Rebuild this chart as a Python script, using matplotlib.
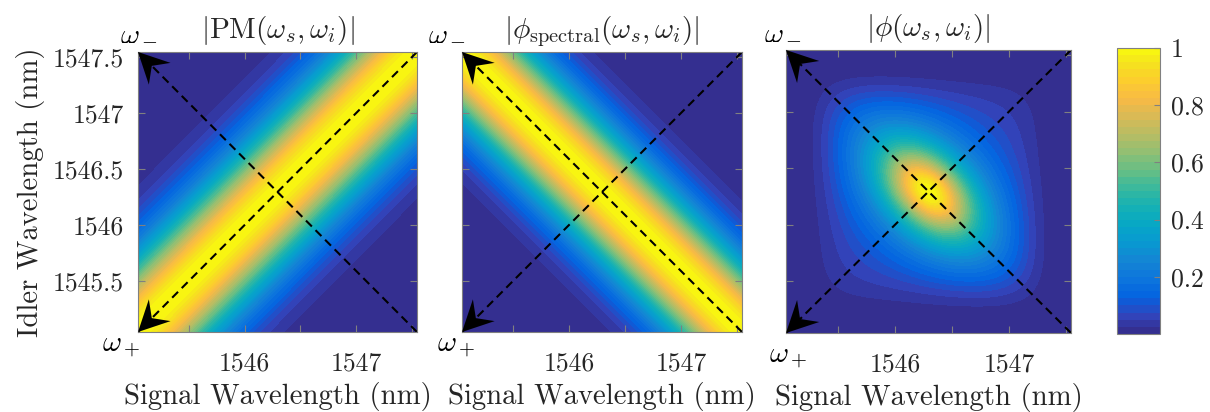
import numpy as np
import matplotlib
matplotlib.use('Agg')
import matplotlib.pyplot as plt
from matplotlib.colors import LinearSegmentedColormap
from matplotlib.patches import Polygon

# wavelength window shared by all three panels (nm)
lam_min, lam_max = 1545.045, 1547.545
lam_center = 1546.295

x_ticks = [1545.5, 1546, 1546.5, 1547, 1547.5]
x_ticklabels = ['', '1546', '', '1547', '']
y_ticklabels = ['1545.5', '1546', '1546.5', '1547', '1547.5']
cbar_ticks = [0.2, 0.4, 0.6, 0.8, 1]
cbar_ticklabels = ['0.2', '0.4', '0.6', '0.8', '1']

titles = [r'$|\mathrm{PM}(\omega_s,\omega_i)|$',
          r'$|\phi_{\mathrm{spectral}}(\omega_s,\omega_i)|$',
          r'$|\phi(\omega_s,\omega_i)|$']

# band widths (nm), d = ls - li, s = ls + li - 2*center
pm_sigma = 0.48
spec_sigma = 0.43
# joint amplitude: elongated sech core, faint floor, flat-topped filters on each arm
jsa_width_d = 0.50
jsa_width_s = 0.30
jsa_floor = 0.05
jsa_filter_hw = 0.95
jsa_filter_order = 6

# parula (sampled)
parula = [(0.2081, 0.1663, 0.5292), (0.1959, 0.2645, 0.7279), (0.0117, 0.3875, 0.8820),
          (0.0498, 0.4586, 0.8641), (0.0793, 0.5200, 0.8312), (0.0343, 0.5966, 0.8199),
          (0.0228, 0.6535, 0.7768), (0.0843, 0.6928, 0.7062), (0.2178, 0.7250, 0.6193),
          (0.3953, 0.7459, 0.5244), (0.5709, 0.7485, 0.4494), (0.7184, 0.7411, 0.3905),
          (0.8507, 0.7299, 0.3360), (0.9739, 0.7314, 0.2666), (0.9880, 0.8066, 0.1794),
          (0.9589, 0.8949, 0.1132), (0.9763, 0.9831, 0.0538)]
pos = [i / 63 for i in range(0, 61, 4)] + [1.0]
cmap = LinearSegmentedColormap.from_list('parula', list(zip(pos, parula)))

plt.rcParams['mathtext.fontset'] = 'cm'
plt.rcParams['font.family'] = 'cmr10'
plt.rcParams['axes.formatter.use_mathtext'] = True

lam = np.linspace(lam_min, lam_max, 301)
ls, li = np.meshgrid(lam, lam)
d = ls - li
s = ls + li - 2 * lam_center
pm = np.exp(-d**2 / (2 * pm_sigma**2))
spec = np.exp(-s**2 / (2 * spec_sigma**2))
r = np.sqrt((d / jsa_width_d)**2 + (s / jsa_width_s)**2)
core = 1 / np.cosh(r)
filt = (np.exp(-np.abs((ls - lam_center) / jsa_filter_hw)**jsa_filter_order)
        * np.exp(-np.abs((li - lam_center) / jsa_filter_hw)**jsa_filter_order))
jsa = ((1 - jsa_floor) * core + jsa_floor) * filt
jsa = jsa / jsa.max()
fields = [pm, spec, jsa]

fig = plt.figure(figsize=(12.1, 4.12), dpi=100)
W, H = 1210, 412
boxes = [(138, 52, 279, 280), (462, 52, 280, 280), (786, 50, 285, 283)]
wminus = [(0.004, 1.07), (-0.052, 1.07), (-0.01, 1.065)]
wplus = [(-0.06, -0.054), (-0.02, -0.054), (0.007, -0.088)]
grey = '#808080'
txt = '#262626'


def head(ax, corner, L=0.11, Wd=0.055, N=0.07):
    c = np.array(corner, float)
    u = c - 0.5
    u = u / np.linalg.norm(u)
    p = np.array([-u[1], u[0]])
    pts = [c, c - u * L + p * Wd, c - u * N, c - u * L - p * Wd]
    ax.add_patch(Polygon(pts, closed=True, transform=ax.transAxes,
                         color='k', lw=0, zorder=5, clip_on=False))


levels = np.linspace(0, 1, 41)
for k in range(3):
    x0, y0, w, h = boxes[k]
    ax = fig.add_axes([x0 / W, 1 - (y0 + h) / H, w / W, h / H])
    cf = ax.contourf(lam, lam, fields[k], levels=levels, cmap=cmap, vmin=0, vmax=1)
    ax.set_xlim(lam_min, lam_max)
    ax.set_ylim(lam_min, lam_max)
    # diagonals with arrowheads at the left corners
    ax.plot([lam_max, lam_min], [lam_max, lam_min], color='k', ls='--', lw=1.5, dashes=(4, 2.5))
    ax.plot([lam_max, lam_min], [lam_min, lam_max], color='k', ls='--', lw=1.5, dashes=(4, 2.5))
    head(ax, (0, 0))
    head(ax, (0, 1))
    ax.set_xticks(x_ticks)
    ax.set_xticklabels(x_ticklabels)
    ax.set_yticks(x_ticks)
    if k == 0:
        ax.set_yticklabels(y_ticklabels)
        ax.set_ylabel('Idler Wavelength (nm)', fontsize=20.7, color=txt, labelpad=6)
    else:
        ax.set_yticklabels([])
    ax.tick_params(direction='in', top=True, right=True, length=5, width=0.8,
                   color=grey, labelsize=18.5, labelcolor=txt)
    ax.tick_params(axis='x', pad=14)
    ax.tick_params(axis='y', pad=10)
    for sp in ax.spines.values():
        sp.set_color(grey)
        sp.set_linewidth(0.8)
    ax.set_xlabel('Signal Wavelength (nm)', fontsize=20.7, color=txt, labelpad=5)
    ax.set_title(titles[k], fontsize=21, color=txt, pad=10)
    ax.text(*wminus[k], r'$\omega_-$', transform=ax.transAxes, ha='center', va='center',
            fontsize=21, color='k')
    ax.text(*wplus[k], r'$\omega_+$', transform=ax.transAxes, ha='center', va='center',
            fontsize=21, color='k')

cax = fig.add_axes([1117 / W, 1 - 334 / H, 43 / W, 286 / H])
cb = fig.colorbar(cf, cax=cax, ticks=cbar_ticks)
cb.ax.set_yticklabels(cbar_ticklabels)
cb.ax.tick_params(direction='in', length=4, width=0.8, color=grey, labelsize=18.5,
                  labelcolor=txt, pad=8)
cb.outline.set_edgecolor(grey)
cb.outline.set_linewidth(0.8)

fig.savefig('out.png', dpi=100)
